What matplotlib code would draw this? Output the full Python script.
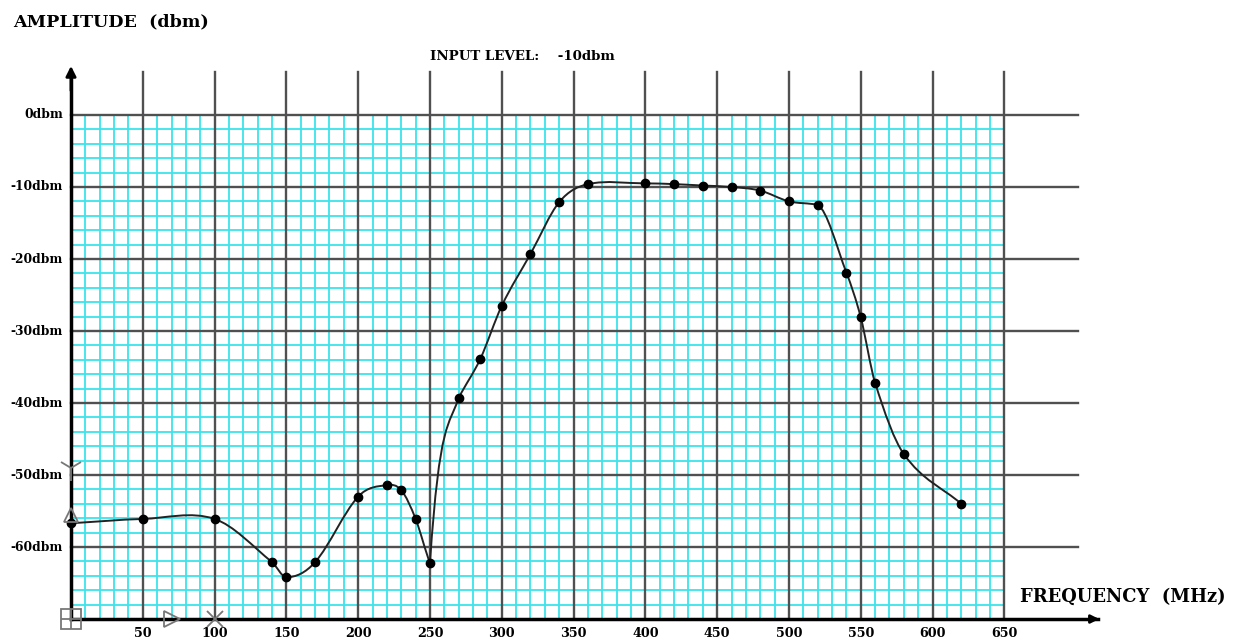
import numpy as np
import matplotlib.pyplot as plt
from matplotlib.path import Path
from matplotlib.patches import PathPatch

# measured points (MHz, dBm)
freq = [0, 50, 100, 140, 150, 170, 200, 220, 230, 240, 250, 270, 285, 300, 320,
        340, 360, 400, 420, 440, 460, 480, 500, 520, 540, 550, 560, 580, 620]
amp = [-56.7, -56.1, -56.1, -62.1, -64.2, -62.1, -53.0, -51.4, -52.1, -56.1, -62.2,
       -39.3, -33.9, -26.5, -19.3, -12.1, -9.6, -9.5, -9.6, -9.8, -10.0, -10.5,
       -12.0, -12.5, -21.9, -28.1, -37.2, -47.1, -54.0]

x_ticks = [50, 100, 150, 200, 250, 300, 350, 400, 450, 500, 550, 600, 650]
y_ticks = [0, -10, -20, -30, -40, -50, -60]
y_labels = ['0dbm', '-10dbm', '-20dbm', '-30dbm', '-40dbm', '-50dbm', '-60dbm']

serif = ['DejaVu Serif']
fig = plt.figure(figsize=(12.41, 6.43), dpi=100)
ax = fig.add_axes([0, 0, 1, 1])
ax.set_xlim(-49.44, 814.8)
ax.set_ylim(-73.33, 15.97)
ax.axis('off')

# fine cyan grid
for f in range(0, 651, 10):
    ax.plot([f, f], [-70, 0], color='#3ce4ec', lw=1.3, zorder=1)
for d in range(-70, 1, 2):
    ax.plot([0, 650], [d, d], color='#3ce4ec', lw=1.3, zorder=1)

# major grid
for f in x_ticks:
    ax.plot([f, f], [-70, 6], color='#505050', lw=1.7, zorder=2)
for d in y_ticks:
    ax.plot([0, 701], [d, d], color='#505050', lw=1.7, zorder=2)

# axes with arrows
ax.plot([0, 0], [-70, 5.5], color='black', lw=2.5, zorder=4)
ax.annotate('', xy=(0, 7.2), xytext=(0, 3.0),
            arrowprops=dict(arrowstyle='-|>', color='black', lw=2, mutation_scale=15), zorder=4)
ax.plot([0, 715], [-70, -70], color='black', lw=2.5, zorder=4)
ax.annotate('', xy=(718, -70), xytext=(708, -70),
            arrowprops=dict(arrowstyle='-|>', color='black', lw=2, mutation_scale=12), zorder=4)

# smooth curve through the points (cubic Bezier segments)
x = np.array(freq, dtype=float)
y = np.array(amp, dtype=float)
m = np.zeros_like(y)
m[1:-1] = (y[2:] - y[:-2]) / (x[2:] - x[:-2])
m[0] = (y[1] - y[0]) / (x[1] - x[0])
m[-1] = (y[-1] - y[-2]) / (x[-1] - x[-2])
m_in = m.copy()
m_out = m.copy()
# sharp notch at 250 MHz and knee at 520 MHz
m_in[freq.index(250)] = -0.5
m_out[freq.index(250)] = 3.0
m_in[freq.index(270)] = 0.6
m_out[freq.index(270)] = 0.4
m_in[freq.index(520)] = -0.05
m_out[freq.index(520)] = -0.1
verts = [(x[0], y[0])]
codes = [Path.MOVETO]
for i in range(len(x) - 1):
    dx = (x[i + 1] - x[i]) / 3
    verts += [(x[i] + dx, y[i] + m_out[i] * dx),
              (x[i + 1] - dx, y[i + 1] - m_in[i + 1] * dx),
              (x[i + 1], y[i + 1])]
    codes += [Path.CURVE4] * 3
ax.add_patch(PathPatch(Path(verts, codes), fill=False, color='#222222', lw=1.4, zorder=5))
ax.plot(freq, amp, 'o', color='black', ms=6, zorder=6)

# cursor markers
mk = dict(color='#777777', mfc='none', mew=1.3, zorder=7, clip_on=False)
ax.plot(0, -55.6, '^', ms=10, **mk)
ax.plot(0, -49.0, '1', ms=18, **mk)
ax.plot(0, -70, 's', ms=14, **mk)
ax.plot(0, -70, '+', ms=14, **mk)
ax.plot(70, -70, '>', ms=11, **mk)
ax.plot(100, -70, 'x', ms=11, **mk)

# labels
for d, lab in zip(y_ticks, y_labels):
    ax.text(-5.6, d, lab, ha='right', va='center', fontsize=8.8, fontweight='bold', family=serif)
for f in x_ticks:
    ax.text(f, -72.0, str(f), ha='center', va='center', fontsize=9.2, fontweight='bold', family=serif)

ax.text(-40.4, 12.9, 'AMPLITUDE  (dbm)', ha='left', va='center', fontsize=12.6, fontweight='bold', family=serif)
ax.text(250, 8.1, 'INPUT LEVEL:    -10dbm', ha='left', va='center', fontsize=9.6, fontweight='bold', family=serif)
ax.text(660.9, -66.9, 'FREQUENCY  (MHz)', ha='left', va='center', fontsize=12.9, fontweight='bold', family=serif)

fig.savefig('out.png', dpi=100)
